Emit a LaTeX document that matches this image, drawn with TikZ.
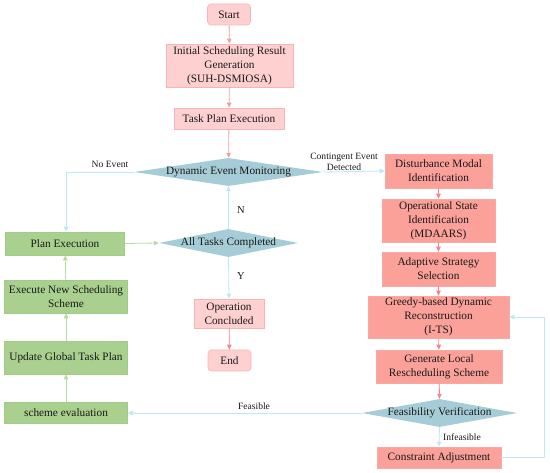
\documentclass[tikz,border=0pt]{standalone}
\usepackage{fontspec}
\setmainfont{Liberation Serif}
\usetikzlibrary{shapes.geometric,arrows.meta}
\definecolor{pinkL}{HTML}{FFD0D0}
\definecolor{pinkD}{HTML}{F7B4B4}
\definecolor{salm}{HTML}{FBA19A}
\definecolor{salmD}{HTML}{F7AAA4}
\definecolor{grn}{HTML}{A9D08E}
\definecolor{grnD}{HTML}{A2CB86}
\definecolor{dia}{HTML}{A6CDD7}
\definecolor{arrP}{HTML}{F5A0A0}
\definecolor{arrR}{HTML}{F3858D}
\definecolor{arrB}{HTML}{BCE7F4}
\definecolor{arrG}{HTML}{B3DDA0}
\newcommand{\dtext}[1]{\makebox[0pt]{#1}}
\tikzset{
  box/.style={rectangle, inner sep=1pt, align=center, font=\fontsize{11.3}{13.8}\selectfont, text=black!90},
  lbox/.style={box, fill=pinkL, draw=pinkD, line width=0.6pt},
  rbox/.style={lbox, rounded corners=3.5pt},
  sbox/.style={box, fill=salm, draw=salmD, line width=0.6pt},
  gbox/.style={box, fill=grn, draw=grnD, line width=0.6pt},
  dbox/.style={diamond, aspect=6, inner sep=0pt, fill=dia, draw=none, font=\fontsize{11.3}{13}\selectfont, text=black!90},
  tip/.style={-{Triangle[length=5pt,width=4.5pt]}, line width=0.8pt},
  pa/.style={tip, draw=arrP},
  ra/.style={tip, draw=arrR},
  ba/.style={tip, draw=arrB},
  ga/.style={tip, draw=arrG},
  lab/.style={font=\fontsize{9.6}{11}\selectfont, text=black!90, inner sep=1pt, align=center},
}
\begin{document}
\begin{tikzpicture}[x=1pt,y=-1pt]
\useasboundingbox (0,0) rectangle (550,473);
% center column
\node[rbox, minimum width=43pt, minimum height=21pt] (start) at (229,14.5) {Start};
\node[lbox, minimum width=127pt, minimum height=43pt] (init) at (229.5,65.5) {Initial Scheduling Result\\Generation\\(SUH-DSMIOSA)};
\node[lbox, minimum width=110pt, minimum height=21pt] (task) at (229,118.5) {Task Plan Execution};
\node[dbox, minimum width=189pt, minimum height=28pt] (dem) at (228.5,172) {\dtext{Dynamic Event Monitoring}};
\node[dbox, minimum width=139pt, minimum height=28pt] (atc) at (228.5,243) {\dtext{All Tasks Completed}};
\node[lbox, minimum width=70pt, minimum height=29pt] (opc) at (229,313.5) {Operation\\Concluded};
\node[rbox, minimum width=43pt, minimum height=21pt] (endn) at (229.5,360.5) {End};
% left column
\node[gbox, minimum width=119pt, minimum height=23pt] (plan) at (65,243.5) {Plan Execution};
\node[gbox, minimum width=123pt, minimum height=33pt] (exec) at (66,296.5) {Execute New Scheduling\\Scheme};
\node[gbox, minimum width=123pt, minimum height=33pt] (upd) at (66,357.5) {Update Global Task Plan};
\node[gbox, minimum width=123pt, minimum height=21pt] (sev) at (66,413) {scheme evaluation};
% right column
\node[sbox, minimum width=107pt, minimum height=34pt] (dmi) at (438.5,171) {Disturbance Modal\\Identification};
\node[sbox, minimum width=113pt, minimum height=43pt] (osi) at (438.5,220.5) {Operational State\\Identification\\(MDAARS)};
\node[sbox, minimum width=113pt, minimum height=34pt] (ass) at (438.5,269) {Adaptive Strategy\\Selection};
\node[sbox, minimum width=141pt, minimum height=42pt] (gdr) at (438.5,317) {Greedy-based Dynamic\\Reconstruction\\(I-TS)};
\node[sbox, minimum width=126pt, minimum height=33pt] (glr) at (439,366.5) {Generate Local\\Rescheduling Scheme};
\node[dbox, minimum width=155pt, minimum height=28pt] (fv) at (439.5,413) {\dtext{Feasibility Verification}};
\node[sbox, minimum width=124pt, minimum height=21pt] (ca) at (439,457.5) {Constraint Adjustment};
% coordinates
\coordinate (ne) at (66,172);
\coordinate (fb1) at (544,457.5);
\coordinate (fb2) at (544,317);
% connectors
\draw[pa] (start) -- (init);
\draw[pa] (init) -- (task);
\draw[pa] (task) -- (dem);
\draw[ba] (dem.west) -- (ne) -- (ne |- plan.north);
\node[lab] (lne) at (110,164.5) {No Event};
\draw[ba] (dem.east) -- (dmi.west);
\node[lab] (lce) at (344,161.5) {Contingent Event\\Detected};
\draw[ga] (plan.east) -- (atc.west);
\draw[ba] (atc.north) -- (dem.south);
\node[lab, font=\fontsize{10.5}{12}\selectfont] (ln) at (241,210) {N};
\draw[ba] (atc.south) -- (opc.north);
\node[lab, font=\fontsize{10.5}{12}\selectfont] (ly) at (241,276) {Y};
\draw[ra] (opc) -- (endn);
\draw[ra] (dmi) -- (osi);
\draw[ra] (osi) -- (ass);
\draw[ra] (ass) -- (gdr);
\draw[ra] (gdr) -- (glr);
\draw[ra] (glr) -- (fv.north);
\draw[ba] (fv.south) -- (ca.north);
\node[lab] (linf) at (462,437) {Infeasible};
\draw[ba] (ca.east) -- (fb1) -- (fb2) -- (gdr.east);
\draw[ba] (fv.west) -- (sev.east);
\node[lab] (lfe) at (254,406) {Feasible};
\draw[ga] (sev) -- (upd);
\draw[ga] (upd) -- (exec);
\draw[ga] (exec) -- (plan);
\end{tikzpicture}
\end{document}
